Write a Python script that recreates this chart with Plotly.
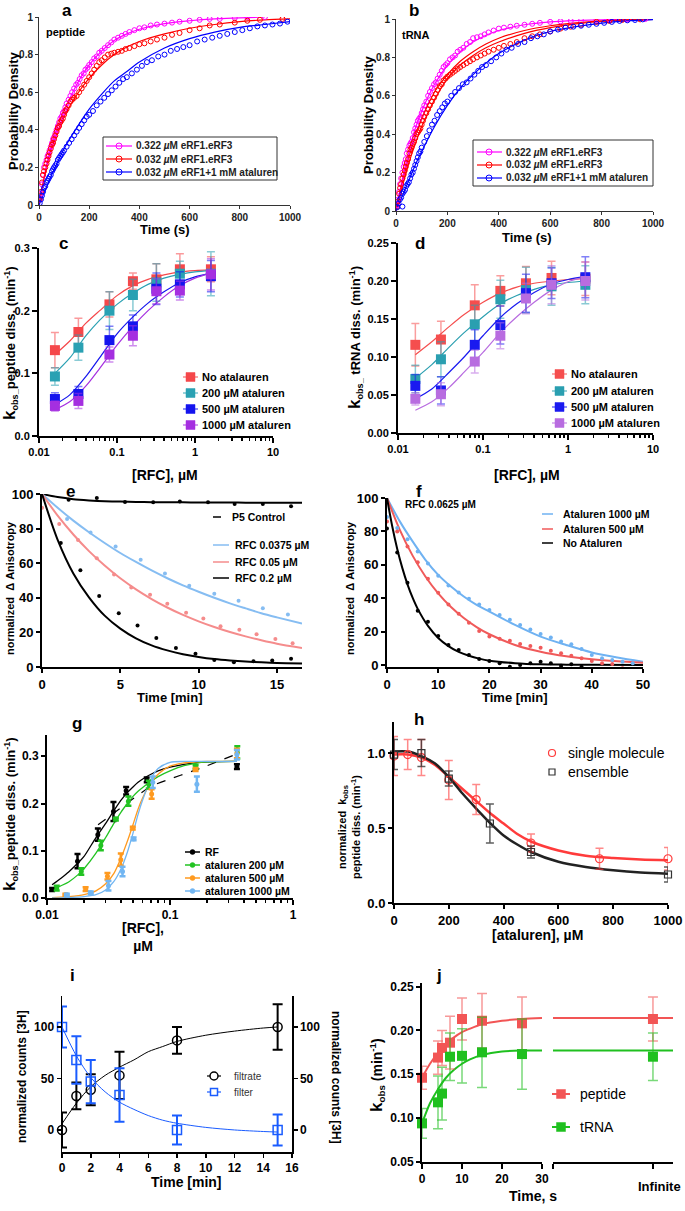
import plotly.graph_objects as go

W, H = 685, 1211
FONT = "Liberation Sans, Arial, sans-serif"

# ---------------- panel a (peptide CDF) ----------------
A_T_MAG = [3,8,12,16,20,25,30,34,38,42,47,52,56,60,65,70,75,80,85,90,95,100,105,110,118,125,132,140,148,155,162,170,178,185,193,200,210,220,230,240,250,262,275,288,300,315,330,345,360,380,400,420,445,470,500,530,560,600,640,680,720,780,830,900]
A_Y_MAG = [0.03,0.06,0.11,0.16,0.2,0.22,0.24,0.26,0.27,0.29,0.31,0.33,0.35,0.36,0.38,0.4,0.42,0.44,0.46,0.47,0.49,0.5,0.52,0.54,0.56,0.58,0.6,0.62,0.64,0.65,0.67,0.69,0.7,0.72,0.73,0.745,0.76,0.78,0.79,0.81,0.82,0.835,0.85,0.865,0.88,0.89,0.9,0.91,0.92,0.93,0.94,0.945,0.955,0.96,0.965,0.97,0.975,0.98,0.985,0.99,0.99,0.995,1.0,1.0]
A_T_RED = [3,8,12,16,20,25,30,34,38,42,47,52,56,60,65,70,75,80,85,90,95,100,105,110,118,125,132,140,150,160,170,180,190,200,210,220,230,240,250,262,275,288,300,315,330,345,360,380,400,420,445,470,500,530,560,600,640,680,720,780,830,880,970]
A_Y_RED = [0.03,0.07,0.12,0.16,0.18,0.2,0.22,0.24,0.26,0.28,0.3,0.32,0.33,0.35,0.37,0.39,0.41,0.42,0.44,0.45,0.46,0.48,0.5,0.51,0.53,0.55,0.56,0.57,0.58,0.6,0.62,0.64,0.66,0.68,0.7,0.72,0.74,0.76,0.77,0.785,0.8,0.805,0.81,0.815,0.82,0.83,0.835,0.845,0.855,0.86,0.87,0.88,0.89,0.905,0.915,0.93,0.94,0.955,0.96,0.97,0.98,0.985,0.99]
A_T_BLU = [3,8,12,16,20,25,30,34,38,42,47,52,56,60,65,70,75,80,85,90,95,100,110,120,130,140,150,160,170,180,190,200,215,230,245,260,275,290,305,320,335,350,370,390,410,430,450,475,500,525,550,575,600,630,660,690,720,750,780,810,840,870,900,930,960,990]
A_Y_BLU = [0.01,0.03,0.05,0.07,0.09,0.1,0.12,0.13,0.14,0.15,0.16,0.18,0.19,0.2,0.21,0.22,0.24,0.25,0.26,0.27,0.28,0.29,0.31,0.33,0.35,0.37,0.39,0.41,0.43,0.45,0.47,0.48,0.5,0.53,0.55,0.57,0.59,0.61,0.63,0.65,0.67,0.68,0.7,0.72,0.74,0.76,0.77,0.79,0.8,0.82,0.83,0.84,0.85,0.87,0.88,0.89,0.9,0.91,0.92,0.93,0.94,0.95,0.955,0.96,0.965,0.975]
A_FIT_T = [0,25,50,75,100,150,200,250,300,350,400,500,600,700,800,900,1000]
A_FIT_MAG = [0,0.18,0.32,0.42,0.5,0.64,0.745,0.82,0.875,0.91,0.935,0.965,0.98,0.99,0.995,1.0]
A_FIT_RED = [0,0.17,0.3,0.39,0.47,0.585,0.675,0.745,0.8,0.84,0.87,0.91,0.94,0.96,0.975,0.985,0.99]
A_FIT_BLU = [0,0.08,0.16,0.23,0.3,0.41,0.51,0.59,0.66,0.71,0.76,0.835,0.885,0.92,0.945,0.96,0.975]

# ---------------- panel b (tRNA CDF) ----------------
B_T_MAG = [3,8,12,16,20,25,30,34,38,42,47,52,56,60,65,70,75,80,85,90,95,100,105,110,118,125,132,140,148,155,162,170,178,185,193,200,210,220,230,240,250,262,275,288,300,315,330,345,360,380,400,420,445,470,500,530,560,600,640,680,720,780,830,900,970]
B_Y_MAG = [0.03,0.06,0.1,0.14,0.17,0.2,0.23,0.25,0.27,0.3,0.32,0.34,0.35,0.36,0.38,0.41,0.43,0.45,0.47,0.48,0.49,0.51,0.53,0.55,0.57,0.6,0.62,0.64,0.66,0.67,0.69,0.71,0.73,0.75,0.76,0.77,0.79,0.8,0.81,0.83,0.84,0.85,0.87,0.88,0.9,0.905,0.91,0.92,0.93,0.94,0.95,0.955,0.96,0.965,0.97,0.975,0.98,0.985,0.988,0.99,0.992,0.995,0.997,0.998,1.0]
B_T_RED = [3,8,12,16,20,25,30,34,38,42,47,52,56,60,65,70,75,80,85,90,95,100,105,110,118,125,132,140,148,155,162,170,178,185,193,200,210,220,230,240,250,262,275,288,300,315,330,345,360,380,400,420,445,470,500,530,560,600,640,680,720,780,830,880,950]
B_Y_RED = [0.02,0.05,0.09,0.12,0.14,0.17,0.19,0.21,0.23,0.25,0.27,0.3,0.32,0.33,0.35,0.36,0.38,0.4,0.41,0.42,0.43,0.45,0.47,0.49,0.51,0.53,0.55,0.57,0.59,0.61,0.63,0.65,0.66,0.68,0.69,0.7,0.71,0.72,0.73,0.74,0.75,0.76,0.77,0.78,0.79,0.8,0.81,0.82,0.83,0.84,0.85,0.86,0.87,0.88,0.9,0.91,0.92,0.935,0.95,0.96,0.97,0.985,0.99,0.995,0.998]
B_T_BLU = [5,10,15,20,25,25,30,35,40,45,50,55,60,65,70,75,80,85,90,95,100,110,120,130,140,150,160,170,180,190,200,215,230,245,260,275,290,305,320,335,350,370,390,410,430,450,475,500,525,550,575,600,630,660,690,720,750,780,810,840,870,900,930,960]
B_Y_BLU = [0.02,0.04,0.06,0.07,0.09,0.023,0.1,0.11,0.13,0.14,0.15,0.17,0.19,0.2,0.22,0.24,0.26,0.28,0.3,0.31,0.33,0.36,0.39,0.42,0.45,0.47,0.5,0.52,0.54,0.56,0.57,0.6,0.62,0.64,0.66,0.67,0.69,0.71,0.73,0.75,0.76,0.78,0.8,0.82,0.84,0.85,0.87,0.88,0.9,0.91,0.92,0.935,0.945,0.955,0.96,0.965,0.97,0.975,0.98,0.985,0.99,0.993,0.995,0.998]
B_FIT_T = [0,25,50,75,100,150,200,250,300,350,400,500,600,700,800,900,1000]
B_FIT_MAG = [0,0.17,0.31,0.43,0.52,0.66,0.76,0.83,0.88,0.915,0.94,0.97,0.985,0.992,0.996,0.999,1.0]
B_FIT_RED1 = [0,0.15,0.28,0.39,0.48,0.62,0.71,0.78,0.83,0.87,0.9,0.94,0.965,0.98,0.99,0.996,1.0]
B_FIT_RED2 = [0,0.13,0.25,0.35,0.44,0.58,0.69,0.76,0.81,0.85,0.88,0.925,0.955,0.975,0.987,0.994,0.998]
B_FIT_BLU = [0,0.08,0.16,0.24,0.31,0.44,0.55,0.64,0.71,0.77,0.82,0.89,0.935,0.96,0.978,0.99,0.997]

# ---------------- panel c / d ----------------
CD_X = [0.016,0.032,0.08,0.16,0.32,0.64,1.6]
CD_FX = [0.016,0.025,0.04,0.06,0.1,0.16,0.25,0.4,0.64,1,1.6]
C_NO = [0.137,0.166,0.21,0.247,0.25,0.266,0.266]
C_NO_E = [0.028,0.022,0.02,0.013,0.025,0.025,0.02]
C_200 = [0.095,0.141,0.2,0.225,0.245,0.259,0.259]
C_200_E = [0.014,0.02,0.03,0.025,0.03,0.02,0.035]
C_500 = [0.059,0.067,0.153,0.175,0.235,0.242,0.255]
C_500_E = [0.01,0.012,0.022,0.018,0.025,0.02,0.025]
C_1000 = [0.048,0.056,0.13,0.16,0.231,0.232,0.258]
C_1000_E = [0.008,0.012,0.012,0.016,0.02,0.015,0.025]
C_FIT_NO = [0.13,0.152,0.18,0.2,0.224,0.24,0.25,0.257,0.262,0.264,0.265]
C_FIT_200 = [0.1,0.125,0.16,0.185,0.21,0.228,0.242,0.252,0.258,0.262,0.264]
C_FIT_500 = [0.05,0.066,0.095,0.125,0.163,0.19,0.212,0.23,0.245,0.254,0.26]
C_FIT_1000 = [0.042,0.055,0.08,0.108,0.145,0.175,0.2,0.222,0.24,0.252,0.26]

D_NO = [0.116,0.123,0.168,0.187,0.197,0.204,0.203]
D_NO_E = [0.028,0.024,0.027,0.02,0.022,0.022,0.022]
D_200 = [0.071,0.097,0.143,0.176,0.188,0.193,0.195]
D_200_E = [0.018,0.023,0.025,0.025,0.03,0.025,0.025]
D_500 = [0.062,0.056,0.116,0.142,0.184,0.197,0.205]
D_500_E = [0.015,0.018,0.02,0.025,0.025,0.02,0.027]
D_1000 = [0.045,0.051,0.094,0.128,0.177,0.195,0.2]
D_1000_E = [0.008,0.015,0.015,0.017,0.02,0.025,0.025]
D_FIT_NO = [0.103,0.12,0.14,0.156,0.172,0.184,0.192,0.197,0.2,0.202,0.203]
D_FIT_200 = [0.072,0.09,0.113,0.132,0.153,0.17,0.181,0.189,0.195,0.198,0.2]
D_FIT_500 = [0.045,0.058,0.08,0.1,0.128,0.152,0.17,0.185,0.196,0.202,0.206]
D_FIT_1000 = [0.03,0.041,0.06,0.08,0.106,0.132,0.153,0.172,0.188,0.199,0.205]

# ---------------- panel e ----------------
E_P5_X = [1.7,3.5,5.3,7.1,8.8,10.6,12.3,14.1,15.9]
E_P5_Y = [96.7,97.7,95.4,95.2,95.6,95.2,94.2,94.2,92.9]
E_B_X = [1.6,3.1,4.7,6.3,7.85,9.4,11.0,12.55,14.1,15.7]
E_B_Y = [85.5,77.8,69.7,62,54,47,42.4,38.3,33.9,30.3]
E_R_X = [0,1.1,2.3,3.5,4.6,5.7,6.9,8.0,9.2,10.3,11.4,12.6,13.7,14.9,16.0]
E_R_Y = [92,82.7,73.4,62.8,53.4,46,41.8,36.6,31.4,28.1,23.5,21.6,18.9,16.2,13.7]
E_K_X = [1.2,2.45,3.65,4.9,6.1,7.3,8.55,9.8,11.0,12.25,13.5,14.7,15.9]
E_K_Y = [71.7,55.9,41.1,31,24,16.8,11,7.7,4,2.7,3.3,3.7,4.8]
E_FX = [0,1,2,3,4,5,6,7,8,9,10,11,12,13,14,15,16.6]
E_FIT_P5 = [100,98.2,97,96.3,95.8,95.6,95.4,95.3,95.2,95.2,95.1,95.1,95.1,95,95,95,95]
E_FIT_B = [100,92,84.6,77.9,71.7,65.9,60.7,55.8,51.3,47.2,43.5,40,36.8,33.9,31.1,28.7,25.1]
E_FIT_R = [100,87.5,76.6,67,58.7,51.3,44.9,39.3,34.4,30.1,26.4,23.1,20.2,17.7,15.5,13.5,11]
E_FIT_K = [100,73.5,54.1,40.3,29.7,22.2,16.6,12.5,9.6,7.4,5.8,4.6,3.8,3.2,2.7,2.3,2]

# ---------------- panel f ----------------
F_B_X = [0,2,4,6,8,10,12,14,16,18,20,22,24,26,28,30,32,34,36,38,40,42,44,46,48]
F_B_Y = [88.6,82,75.3,68,60.8,53.4,47.6,43.4,39.6,36.3,32.9,29.9,27.1,23.9,21.3,18.5,16.5,14.1,12.4,9.6,6,4,3,2,1]
F_R_X = [0,2,4,6,8,10,12,14,16,18,20,22,24,26,28,30,32,34,36,38,40,42,44,46]
F_R_Y = [86,80,71,61.6,51.6,43.2,36.3,30.7,25.3,20.3,17,15.7,14.5,12.5,11.4,10.4,8.6,7,5.6,4,2.4,1,0.6,-2]
F_K_X = [0,2,4,6,8,10,12,14,16,18,20,22,24,26,28,30,32,34,36,38]
F_K_Y = [81.7,67.3,49.2,32.5,25.9,17.3,12,9,6,3.6,2.4,1,-1,0,1,2,1,-0.4,0.4,-1]
F_FX = [0,2.5,5,7.5,10,12.5,15,17.5,20,25,30,35,40,45,50]
F_FIT_B = [100,86,74,63,54,47,41,36,32,24,17,12,7.5,4.5,2]
F_FIT_R = [100,80.9,65.5,53,42.9,34.7,28.1,22.7,18.4,12,7.9,5.2,3.4,2.2,1.4]
F_KFX = [0,1,2,3,4,5,6,8,10,12,14,16,18,20,25,30,35,40,50]
F_FIT_K = [100,83.4,69.5,58,48.3,40.3,33.6,23.4,16.2,11.3,7.8,5.5,3.8,2.6,1.1,0.4,0.2,0.1,0]

# ---------------- panel g ----------------
G_RF_X = [0.011,0.0177,0.0259,0.0347,0.044,0.0647,0.35]
G_RF_Y = [0.018,0.078,0.134,0.183,0.227,0.25,0.278]
G_RF_E = [0.003,0.015,0.013,0.02,0.008,0.005,0.005]
G_200_X = [0.012,0.019,0.0274,0.0363,0.0459,0.0672,0.1615,0.3525]
G_200_Y = [0.021,0.056,0.111,0.167,0.205,0.24,0.277,0.308]
G_200_E = [0.005,0.007,0.01,0.003,0.01,0.008,0.004,0.013]
G_500_X = [0.0141,0.0206,0.031,0.0398,0.0498,0.0709,0.1615,0.35]
G_500_Y = [0.007,0.019,0.046,0.081,0.148,0.22,0.272,0.306]
G_500_E = [0.002,0.004,0.007,0.013,0.003,0.01,0.003,0.01]
G_1000_X = [0.0145,0.0227,0.0316,0.0411,0.0506,0.0724,0.1654,0.35]
G_1000_Y = [0.007,0.011,0.026,0.056,0.125,0.245,0.241,0.303]
G_1000_E = [0.002,0.003,0.01,0.01,0.003,0.012,0.016,0.01]
G_FX = [0.011,0.013,0.015,0.018,0.02,0.025,0.03,0.035,0.04,0.045,0.05,0.055,0.06,0.07,0.08,0.1,0.13,0.16,0.2,0.35]
G_FIT_RF = [0.028,0.042,0.055,0.075,0.088,0.128,0.158,0.185,0.207,0.223,0.235,0.245,0.252,0.262,0.269,0.277,0.283,0.286,0.288,0.289]
G_FIT_200 = [0.018,0.026,0.034,0.05,0.062,0.095,0.128,0.158,0.182,0.2,0.215,0.226,0.234,0.247,0.257,0.269,0.28,0.285,0.288,0.289]
G_FIT_500 = [0.001,0.002,0.003,0.005,0.007,0.015,0.03,0.052,0.085,0.12,0.155,0.188,0.212,0.244,0.262,0.279,0.286,0.288,0.289,0.289]
G_FIT_1000 = [0,0,0.001,0.002,0.003,0.007,0.017,0.035,0.062,0.097,0.137,0.177,0.208,0.252,0.274,0.287,0.289,0.289,0.289,0.289]
G_DX = [0.026,0.035,0.05,0.07,0.1,0.15,0.2,0.35]
G_DY = [0.155,0.18,0.21,0.236,0.252,0.268,0.28,0.305]

# ---------------- panel h ----------------
H_SM_X = [0,50,100,200,300,500,750,1000]
H_SM_Y = [0.98,0.99,0.97,0.82,0.69,0.4,0.295,0.295]
H_SM_E = [0.13,0.1,0.12,0.13,0.1,0.06,0.07,0.075]
H_EN_X = [0,100,200,350,500,1000]
H_EN_Y = [0.99,1.0,0.83,0.53,0.34,0.19]
H_EN_E = [0.1,0.09,0.05,0.13,0.04,0.05]
H_FX = [0,50,100,150,200,250,300,350,400,450,500,600,700,800,900,1000]
H_FIT_SM = [0.99,0.99,0.97,0.92,0.84,0.76,0.68,0.6,0.53,0.46,0.41,0.35,0.315,0.3,0.29,0.285]
H_FIT_EN = [1.01,1.01,0.98,0.93,0.84,0.73,0.63,0.535,0.45,0.39,0.34,0.275,0.24,0.218,0.203,0.195]

# ---------------- panel i ----------------
I_T = [0,1,2,4,8,15]
I_FILTRATE = [0,33,39,53,87,100]
I_FILTRATE_E = [17,13,15,23,13,22]
I_FILTER = [100,68,47,34,0,0]
I_FILTER_E = [20,23,21,26,14,15]
I_FX = [0,1,2,3,4,5,6,7,8,10,12,14,15]
I_FIT_FILTRATE = [6,26,42,53,61,68,76,81,86,92,96,99,100]
I_FIT_FILTER = [100,72,51,37,27,20,14,9.5,6.5,2.5,0,-1.5,-2]

# ---------------- panel j ----------------
J_T = [0,4,5,7,10,15,25]
J_PEP = [0.146,0.169,0.18,0.186,0.213,0.211,0.208]
J_PEP_E = [0.013,0.019,0.02,0.03,0.024,0.031,0.03]
J_TRNA = [0.094,0.118,0.128,0.17,0.171,0.175,0.173]
J_TRNA_E = [0.017,0.03,0.03,0.027,0.031,0.04,0.04]
J_INF_POS = [0.833]
J_PEP_INF = [0.213]
J_PEP_INF_E = [0.025]
J_TRNA_INF = [0.17]
J_TRNA_INF_E = [0.027]
J_FX = [0,2,4,6,8,10,12,15,20,25,30]
J_FIT_PEP = [0.146,0.162,0.174,0.184,0.192,0.198,0.202,0.207,0.211,0.213,0.214]
J_FIT_TRNA = [0.094,0.117,0.133,0.146,0.155,0.162,0.167,0.172,0.176,0.177,0.177]
J_INF_LINE_X = [0, 1]
J_INF_PEP_LINE = [0.214, 0.214]
J_INF_TRNA_LINE = [0.177, 0.177]

# ---------------- colors ----------------
MAG, RED, BLU = '#FF00FF', '#FF0000', '#0000FF'
C_COL = ['#F5474A', '#2AA1B3', '#1414EE', '#A52FE0']
D_COL = ['#F54E4E', '#2A9FB0', '#1A1AF0', '#B86CE0']

def rgba(hexc, a):
    h = hexc.lstrip('#')
    return 'rgba(%d,%d,%d,%.2f)' % (int(h[0:2], 16), int(h[2:4], 16), int(h[4:6], 16), a)

fig = go.Figure()

def sc(x, y, xa, ya, **kw):
    fig.add_trace(go.Scatter(x=x, y=y, xaxis=xa, yaxis=ya, showlegend=False, hoverinfo='skip', **kw))

def fitline(x, y, xa, ya, color, width=1.2, dash='solid'):
    sc(x, y, xa, ya, mode='lines', line=dict(color=color, width=width, shape='spline', smoothing=0.8, dash=dash))

# a
fitline(A_FIT_T[:len(A_FIT_MAG)], A_FIT_MAG, 'x', 'y', MAG)
fitline(A_FIT_T, A_FIT_RED, 'x', 'y', RED)
fitline(A_FIT_T, A_FIT_BLU, 'x', 'y', BLU)
for t, v, c in [(A_T_MAG, A_Y_MAG, MAG), (A_T_RED, A_Y_RED, RED), (A_T_BLU, A_Y_BLU, BLU)]:
    sc(t, v, 'x', 'y', mode='markers', marker=dict(symbol='circle-open', size=5, color=c, line=dict(width=1)))
# b
fitline(B_FIT_T, B_FIT_MAG, 'x2', 'y2', MAG)
fitline(B_FIT_T, B_FIT_RED1, 'x2', 'y2', RED)
fitline(B_FIT_T, B_FIT_RED2, 'x2', 'y2', RED)
fitline(B_FIT_T, B_FIT_BLU, 'x2', 'y2', BLU)
for t, v, c in [(B_T_MAG, B_Y_MAG, MAG), (B_T_RED, B_Y_RED, RED), (B_T_BLU, B_Y_BLU, BLU)]:
    sc(t, v, 'x2', 'y2', mode='markers', marker=dict(symbol='circle-open', size=5, color=c, line=dict(width=1)))

# c, d
for (ys, es, fits, cols, xa, ya) in [
        ([C_NO, C_200, C_500, C_1000], [C_NO_E, C_200_E, C_500_E, C_1000_E], [C_FIT_NO, C_FIT_200, C_FIT_500, C_FIT_1000], C_COL, 'x3', 'y3'),
        ([D_NO, D_200, D_500, D_1000], [D_NO_E, D_200_E, D_500_E, D_1000_E], [D_FIT_NO, D_FIT_200, D_FIT_500, D_FIT_1000], D_COL, 'x4', 'y4')]:
    for f, c in zip(fits, cols):
        fitline(CD_FX, f, xa, ya, c, width=1.2)
    for y, e, c in zip(ys, es, cols):
        sc(CD_X, y, xa, ya, mode='markers', marker=dict(symbol='square', size=10, color=c),
           error_y=dict(type='data', array=e, color=rgba(c, 0.55), thickness=1.5, width=4))

# e
E_LB, E_PK = '#86BDF2', '#F58C8C'
fitline(E_FX, E_FIT_P5, 'x5', 'y5', 'black', 2)
fitline(E_FX, E_FIT_B, 'x5', 'y5', E_LB, 2)
fitline(E_FX, E_FIT_R, 'x5', 'y5', E_PK, 2)
fitline(E_FX, E_FIT_K, 'x5', 'y5', 'black', 2)
for x, y, c in [(E_P5_X, E_P5_Y, 'black'), (E_B_X, E_B_Y, E_LB), (E_R_X, E_R_Y, E_PK), (E_K_X, E_K_Y, 'black')]:
    sc(x, y, 'x5', 'y5', mode='markers', marker=dict(size=4, color=c))
# f
F_LB, F_PK = '#6FB2F2', '#F05A5A'
fitline(F_FX, F_FIT_B, 'x6', 'y6', F_LB, 2)
fitline(F_FX, F_FIT_R, 'x6', 'y6', F_PK, 2)
fitline(F_KFX, F_FIT_K, 'x6', 'y6', 'black', 2)
for x, y, c in [(F_B_X, F_B_Y, F_LB), (F_R_X, F_R_Y, F_PK), (F_K_X, F_K_Y, 'black')]:
    sc(x, y, 'x6', 'y6', mode='markers', marker=dict(size=4, color=c))

# g
G_COL = ['black', '#22C322', '#FF9A1F', '#72B6F2']
fitline(G_DX, G_DY, 'x7', 'y7', 'black', 1.2, 'dash')
for f, c in zip([G_FIT_RF, G_FIT_200, G_FIT_500, G_FIT_1000], G_COL):
    fitline(G_FX, f, 'x7', 'y7', c, 1.3)
for x, y, e, c in zip([G_RF_X, G_200_X, G_500_X, G_1000_X], [G_RF_Y, G_200_Y, G_500_Y, G_1000_Y],
                      [G_RF_E, G_200_E, G_500_E, G_1000_E], G_COL):
    sc(x, y, 'x7', 'y7', mode='markers', marker=dict(size=5, color=c),
       error_y=dict(type='data', array=e, color=c, thickness=2.5, width=3))

# h
H_RED, H_BLK = '#FF3B3B', '#222222'
fitline(H_FX, H_FIT_SM, 'x8', 'y8', H_RED, 2.5)
fitline(H_FX, H_FIT_EN, 'x8', 'y8', H_BLK, 2.5)
sc(H_SM_X, H_SM_Y, 'x8', 'y8', mode='markers', marker=dict(symbol='circle-open', size=8, color=H_RED, line=dict(width=1.2)),
   error_y=dict(type='data', array=H_SM_E, color=rgba('#FF3B3B', 0.6), thickness=1.5, width=4), cliponaxis=False)
sc(H_EN_X, H_EN_Y, 'x8', 'y8', mode='markers', marker=dict(symbol='square-open', size=7, color='#333333', line=dict(width=1.2)),
   error_y=dict(type='data', array=H_EN_E, color='rgba(40,40,40,0.75)', thickness=1.5, width=4), cliponaxis=False)

# i
I_BLU = '#1A5CFF'
fitline(I_FX, I_FIT_FILTRATE, 'x9', 'y9', 'black', 1)
fitline(I_FX, I_FIT_FILTER, 'x9', 'y10', I_BLU, 1)
sc(I_T, I_FILTRATE, 'x9', 'y9', mode='markers', marker=dict(symbol='circle-open', size=9, color='black', line=dict(width=1.5)),
   error_y=dict(type='data', array=I_FILTRATE_E, color='black', thickness=2, width=5), cliponaxis=False)
sc(I_T, I_FILTER, 'x9', 'y10', mode='markers', marker=dict(symbol='square-open', size=9, color=I_BLU, line=dict(width=1.5)),
   error_y=dict(type='data', array=I_FILTER_E, color=I_BLU, thickness=2, width=5), cliponaxis=False)

# j
J_RED, J_GRN = '#F25555', '#1FC01F'
fitline(J_FX, J_FIT_PEP, 'x10', 'y11', J_RED, 2)
fitline(J_FX, J_FIT_TRNA, 'x10', 'y11', J_GRN, 2)
sc(J_INF_LINE_X, J_INF_PEP_LINE, 'x11', 'y11', mode='lines', line=dict(color=J_RED, width=2))
sc(J_INF_LINE_X, J_INF_TRNA_LINE, 'x11', 'y11', mode='lines', line=dict(color=J_GRN, width=2))
for x, y, e, c, xa in [(J_T, J_PEP, J_PEP_E, J_RED, 'x10'), (J_T, J_TRNA, J_TRNA_E, J_GRN, 'x10'),
                       (J_INF_POS, J_PEP_INF, J_PEP_INF_E, J_RED, 'x11'), (J_INF_POS, J_TRNA_INF, J_TRNA_INF_E, J_GRN, 'x11')]:
    sc(x, y, xa, 'y11', mode='markers', marker=dict(symbol='square', size=10, color=c),
       error_y=dict(type='data', array=e, color=rgba(c, 0.6), thickness=1.5, width=5), cliponaxis=False)

# ---------------- axes ----------------
def tf(size=12, color='black', bold=True):
    return dict(family=FONT, size=size, color=color, weight='bold' if bold else 'normal')

def xax(x0, x1, rng, anchor, **kw):
    d = dict(domain=[x0 / W, x1 / W], range=rng, anchor=anchor, showgrid=False, zeroline=False, showline=True,
             automargin=False, linecolor='black', linewidth=2, ticks='outside', ticklen=4, tickwidth=2,
             tickcolor='black', tickfont=tf(12))
    d.update(kw)
    return d

def yax(ytop, ybot, rng, anchor, **kw):
    d = dict(domain=[1 - ybot / H, 1 - ytop / H], range=rng, anchor=anchor, showgrid=False, zeroline=False, showline=True,
             automargin=False, linecolor='black', linewidth=2, ticks='outside', ticklen=4, tickwidth=2,
             tickcolor='black', tickfont=tf(12))
    d.update(kw)
    return d

thin = dict(linecolor='#333333', linewidth=1, tickcolor='#333333', tickwidth=1, ticklen=3, tickfont=tf(10, '#222222'))
log_minor = dict(ticks='outside', ticklen=3, tickwidth=1.5, tickcolor='black',
                 tickvals=[m * 10 ** k for k in (-2, -1, 0) for m in range(2, 10)])

lay = {}
lay['xaxis'] = xax(39, 290, [0, 1000], 'y', dtick=200, **thin)
lay['yaxis'] = yax(17, 205, [0, 1], 'x', dtick=0.2, **thin)
lay['xaxis2'] = xax(396, 653, [0, 1000], 'y2', dtick=200, **thin)
lay['yaxis2'] = yax(19, 211, [0, 1], 'x2', dtick=0.2, **thin)

lay['xaxis3'] = xax(39, 273, [-2, 1], 'y3', type='log', tickvals=[0.01, 0.1, 1, 10], ticktext=['0.01', '0.1', '1', '10'],
                    minor=log_minor, tickfont=tf(11), ticklen=5)
lay['yaxis3'] = yax(248, 436, [0, 0.3], 'x3', dtick=0.1, tickformat='.1f', tickfont=tf(11), ticklen=5)
lay['xaxis4'] = xax(398, 653, [-2, 1], 'y4', type='log', tickvals=[0.01, 0.1, 1, 10], ticktext=['0.01', '0.1', '1', '10'],
                    minor=log_minor, tickfont=tf(11), ticklen=5)
lay['yaxis4'] = yax(243, 433, [0, 0.25], 'x4', dtick=0.05, tickformat='.2f', tickfont=tf(11), ticklen=5)

lay['xaxis5'] = xax(42, 302, [0, 16.6], 'y5', dtick=5, tickfont=tf(13))
lay['yaxis5'] = yax(494, 667, [0, 100], 'x5', dtick=20, tickfont=tf(13))
lay['xaxis6'] = xax(387, 643, [0, 50], 'y6', dtick=10, tickfont=tf(13))
lay['yaxis6'] = yax(498, 667, [-1.2, 100], 'x6', tickvals=[0, 20, 40, 60, 80, 100], tickfont=tf(13))

lay['xaxis7'] = xax(47, 293, [-2, 0], 'y7', type='log', tickvals=[0.01, 0.1, 1], ticktext=['0.01', '0.1', '1'],
                    minor=log_minor, tickfont=tf(12), ticklen=5)
lay['yaxis7'] = yax(735, 898, [0, 0.345], 'x7', dtick=0.1, tickformat='.1f', tickfont=tf(12))

lay['xaxis8'] = xax(394, 668, [0, 1000], 'y8', dtick=200, tickfont=tf(13))
lay['yaxis8'] = yax(722, 903, [0, 1.207], 'x8', tickvals=[0, 0.5, 1.0], tickformat='.1f', tickfont=tf(13))

lay['xaxis9'] = xax(62, 292, [0, 16], 'y9', dtick=2, tickfont=tf(12), linewidth=1.5, tickwidth=1.5)
lay['yaxis9'] = yax(996, 1152, [-21.4, 130.1], 'x9', tickvals=[0, 50, 100], tickfont=tf(12), linewidth=1.5, tickwidth=1.5)
lay['yaxis10'] = yax(996, 1152, [-21.4, 130.1], 'x9', tickvals=[0, 50, 100], tickfont=tf(12), linewidth=1.5, tickwidth=1.5,
                     overlaying='y9', side='right')

lay['xaxis10'] = xax(422, 542, [0, 30], 'y11', dtick=10, tickfont=tf(12), ticklen=5)
lay['xaxis11'] = xax(553, 673, [0, 1], 'y11', tickvals=[0, 0.833], showticklabels=False, ticklen=5)
lay['yaxis11'] = yax(983, 1162, [0.05, 0.254], 'x10', tickvals=[0.05, 0.1, 0.15, 0.2, 0.25], tickformat='.2f', tickfont=tf(12))

# ---------------- text, legends ----------------
annots, shapes = [], []

def txt(x, y, text, size=12, bold=True, color='black', xanchor='left', angle=0, yanchor='middle'):
    annots.append(dict(x=x / W, y=1 - y / H, xref='paper', yref='paper', text=text, showarrow=False,
                       xanchor=xanchor, yanchor=yanchor, textangle=angle, font=tf(size, color, bold)))

def seg(x0, x1, y, color, width=1.5):
    shapes.append(dict(type='line', xref='paper', yref='paper', x0=x0 / W, x1=x1 / W, y0=1 - y / H, y1=1 - y / H,
                       line=dict(color=color, width=width)))

def mark(x, y, r, kind, color, fill='rgba(0,0,0,0)', lw=1):
    shapes.append(dict(type=kind, xref='paper', yref='paper', x0=(x - r) / W, x1=(x + r) / W, y0=1 - (y + r) / H,
                       y1=1 - (y - r) / H, line=dict(color=color, width=lw), fillcolor=fill))

# panel letters
for L, x, y in [('a', 67, 10), ('b', 414, 10), ('c', 64, 243), ('d', 420, 243), ('e', 70, 492),
                ('f', 419, 491), ('g', 77, 723), ('h', 419, 719), ('i', 72, 975), ('j', 439, 975)]:
    txt(x, y, L, size=17, xanchor='center')

# axis titles
txt(13, 111, 'Probability Density', 13, angle=-90, xanchor='center')
txt(165, 229, 'Time (s)', 13, xanchor='center')
txt(368, 115, 'Probability Density', 13, angle=-90, xanchor='center')
txt(527, 237, 'Time (s)', 13, xanchor='center')
txt(65, 32, 'peptide', 11, xanchor='center')
txt(416, 35, 'tRNA', 11, xanchor='center')

KY = "<span style='font-size:17px'>k</span><sub>obs_</sub>"
txt(10, 343, KY + 'peptide diss. (min<sup>-1</sup>)', 13, angle=-90, xanchor='center')
txt(165, 475, '[RFC], µM', 14, xanchor='center')
txt(355, 338, KY + ' tRNA diss. (min<sup>-1</sup>)', 13, angle=-90, xanchor='center')
txt(527, 475, '[RFC], µM', 14, xanchor='center')

txt(10, 588, 'normalized  Δ Anisotropy', 11, angle=-90, xanchor='center')
txt(170, 697, 'Time [min]', 13, xanchor='center')
txt(350, 588, 'normalized  Δ Anisotropy', 11, angle=-90, xanchor='center')
txt(515, 697, 'Time [min]', 13, xanchor='center')
txt(440, 504, 'RFC 0.0625 µM', 10, xanchor='center')

txt(10, 814, KY + 'peptide diss. (min<sup>-1</sup>)', 13, angle=-90, xanchor='center')
txt(143, 937, '[RFC],<br>µM', 14, xanchor='center')
txt(349, 827, 'normalized  k<sub>obs</sub><br>peptide diss. (min<sup>-1</sup>)', 11, angle=-90, xanchor='center')
txt(537, 935, '[ataluren], µM', 14, xanchor='center')

txt(22, 1077, 'normalized counts [3H]', 12, angle=-90, xanchor='center')
txt(336, 1077, 'normalized counts [3H]', 12, angle=90, xanchor='center')
txt(187, 1182, 'Time [min]', 14, xanchor='center')

txt(377, 1075, "<span style='font-size:17px'>k</span><sub>obs</sub> (min<sup>-1</sup>)", 14, angle=-90, xanchor='center')
txt(533, 1196, 'Time, s', 14, xanchor='center')
txt(659, 1186, 'Infinite', 13, xanchor='center')

# legend a
shapes.append(dict(type='rect', xref='paper', yref='paper', x0=103 / W, x1=277 / W, y0=1 - 180 / H, y1=1 - 137 / H,
                   line=dict(color='#333333', width=1), fillcolor='white'))
for y, c, t in [(146, MAG, '0.322 <i>µ</i>M eRF1.eRF3'), (159, RED, '0.032 <i>µ</i>M eRF1.eRF3'),
                (172, BLU, '0.032 <i>µ</i>M eRF1+1 mM ataluren')]:
    seg(106, 132, y, c, 1.2)
    mark(119, y, 3, 'circle', c)
    txt(134, y, t, 10, color='#222222')
# legend b
shapes.append(dict(type='rect', xref='paper', yref='paper', x0=473 / W, x1=653 / W, y0=1 - 186 / H, y1=1 - 140 / H,
                   line=dict(color='#333333', width=1), fillcolor='white'))
for y, c, t in [(152, MAG, '0.322 <i>µ</i>M eRF1.eRF3'), (165, RED, '0.032 <i>µ</i>M eRF1.eRF3'),
                (178, BLU, '0.032 <i>µ</i>M eRF1+1 mM ataluren')]:
    seg(477, 502, y, c, 1.2)
    mark(489, y, 3, 'circle', c)
    txt(504, y, t, 10, color='#222222')

# legend c / d
for (x0, ys, cols) in [(183, [377, 393, 409, 425], C_COL), (552, [374, 391, 407, 423], D_COL)]:
    for y, c, t in zip(ys, cols, ['No atalauren', '200 µM ataluren', '500 µM ataluren', '1000 µM ataluren']):
        seg(x0, x0 + 15, y, rgba(c, 0.8), 1.2)
        mark(x0 + 7.5, y, 4.5, 'rect', c, fill=c, lw=0.5)
        txt(x0 + 17, y, t, 11)

# legend e
seg(213, 221, 517, 'black', 1.5)
txt(230, 517, 'P5 Control', 10.5)
for y, c, t in [(545, E_LB, 'RFC 0.0375 µM'), (562, E_PK, 'RFC 0.05 µM'), (578, 'black', 'RFC 0.2 µM')]:
    seg(213, 229, y, c, 1.5)
    txt(233, y, t, 10.5)
# legend f
for y, c, t in [(514, F_LB, 'Ataluren 1000 µM'), (529, F_PK, 'Ataluren 500 µM'), (543, 'black', 'No Ataluren')]:
    seg(542, 553, y, c, 1.5)
    txt(561, y, t, 10.5)
# legend g
for y, c, t in [(852, 'black', 'RF'), (865, G_COL[1], 'ataluren 200 µM'), (878, G_COL[2], 'ataluren 500 µM'),
                (891, G_COL[3], 'ataluren 1000 µM')]:
    seg(185, 200, y, c, 1.5)
    mark(192.5, y, 2.5, 'circle', c, fill=c, lw=0.5)
    txt(203, y, t, 10.5)
# legend h
mark(552, 753, 3.5, 'circle', H_RED, lw=1.2)
txt(566, 753, 'single molecule', 14, bold=False)
mark(552, 772, 3, 'rect', '#333333', lw=1.2)
txt(566, 772, 'ensemble', 14, bold=False)
# legend i
seg(207, 221, 1076, 'black', 1.2)
mark(214, 1076, 4, 'circle', 'black', fill='white', lw=1.5)
txt(232, 1076, 'filtrate', 10, bold=False, color='#333333')
seg(207, 221, 1092, I_BLU, 1.2)
mark(214, 1092, 3.5, 'rect', I_BLU, fill='white', lw=1.5)
txt(232, 1092, 'filter', 10, bold=False, color='#333333')
# legend j
seg(552, 570, 1094, J_RED, 2)
mark(561, 1094, 4.5, 'rect', J_RED, fill=J_RED, lw=0.5)
txt(578, 1094, 'peptide', 14, bold=False)
seg(552, 570, 1127, J_GRN, 2)
mark(561, 1127, 4.5, 'rect', J_GRN, fill=J_GRN, lw=0.5)
txt(578, 1127, 'tRNA', 14, bold=False)

fig.update_layout(template='none', width=W, height=H, margin=dict(l=0, r=0, t=0, b=0, pad=0),
                  paper_bgcolor='white', plot_bgcolor='white',
                  showlegend=False, font=dict(family=FONT, color='black'), annotations=annots, shapes=shapes, **lay)
fig.write_html("out.html", config={'displayModeBar': False, 'staticPlot': True},
               post_script="document.body.style.margin='0px';document.body.style.padding='0px';document.body.style.overflow='hidden';")
